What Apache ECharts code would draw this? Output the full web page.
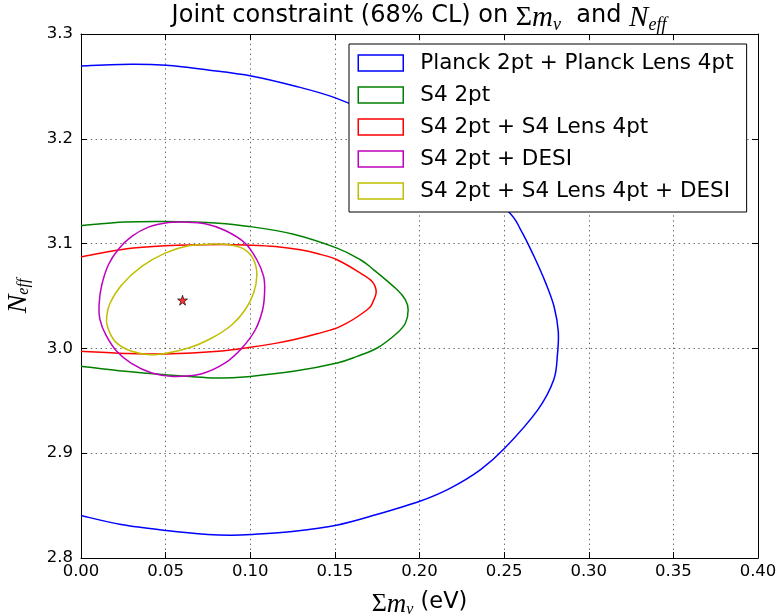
<!DOCTYPE html>
<html>
<head>
<meta charset="utf-8">
<script src="https://cdn.jsdelivr.net/npm/echarts@6/dist/echarts.min.js"></script>
<style>
html,body{margin:0;padding:0;background:#fff;}
#chart{width:778px;height:616px;}
</style>
</head>
<body>
<div id="chart"></div>
<script>
// ---- data ----
const seriesNames = [
  'Planck 2pt + Planck Lens 4pt',
  'S4 2pt',
  'S4 2pt + S4 Lens 4pt',
  'S4 2pt + DESI',
  'S4 2pt + S4 Lens 4pt + DESI'
];
const seriesColors = ['#0000ff', '#008000', '#ff0000', '#bf00bf', '#bfbf00'];

// [sum m_nu (eV), N_eff] points along each 68% contour
const planckContour = [
  [0.0000, 3.2695], [0.0296, 3.2711], [0.0503, 3.2701], [0.0750, 3.2657], [0.1006, 3.2600],
  [0.1262, 3.2504], [0.1499, 3.2393], [0.175, 3.222], [0.200, 3.199], [0.224, 3.170],
  [0.2519, 3.1316], [0.2598, 3.1132], [0.2677, 3.0877], [0.2746, 3.0623],
  [0.2795, 3.0400], [0.2820, 3.0160], [0.2815, 2.9940], [0.2793, 2.9700], [0.2700, 2.9416],
  [0.2503, 2.9047], [0.2361, 2.8844], [0.2180, 2.8665], [0.2002, 2.8542],
  [0.1736, 2.8410], [0.1509, 2.8313], [0.1262, 2.8256], [0.1006, 2.8224], [0.0888, 2.8217],
  [0.0750, 2.8224], [0.0503, 2.8262], [0.0237, 2.8319], [0.0000, 2.8405]
];
const s4Contour = [
  [0.0000, 3.1172], [0.0260, 3.1205], [0.0497, 3.1211], [0.0813, 3.1195], [0.1000, 3.1162],
  [0.1256, 3.1090], [0.1513, 3.0957], [0.1651, 3.0846], [0.1730, 3.0750], [0.1868, 3.0560],
  [0.1917, 3.0464], [0.1933, 3.0369], [0.1917, 3.0242], [0.1868, 3.0147], [0.1750, 3.0004],
  [0.1631, 2.9924], [0.1513, 2.9861], [0.1256, 2.9781], [0.1000, 2.9733], [0.0813, 2.9717],
  [0.0497, 2.9749], [0.0260, 2.9781], [0.0000, 2.9830]
];
const s4LensContour = [
  [0.0000, 3.0872], [0.0260, 3.0948], [0.0497, 3.0979], [0.0813, 3.0992], [0.1000, 3.0985],
  [0.1148, 3.0972], [0.1296, 3.0941], [0.1395, 3.0905], [0.1513, 3.0846], [0.1651, 3.0719],
  [0.1720, 3.0639], [0.1744, 3.0544], [0.1726, 3.0449], [0.1691, 3.0369], [0.1533, 3.0210],
  [0.1395, 3.0140], [0.1256, 3.0083], [0.1148, 3.0048], [0.1000, 3.0010], [0.0813, 2.9972],
  [0.0497, 2.9947], [0.0260, 2.9952], [0.0000, 2.9972]
];
const s4DesiContour = [
  [0.0615, 3.1205], [0.0734, 3.1189], [0.0852, 3.1125], [0.0970, 3.1004], [0.1039, 3.0846],
  [0.1079, 3.0687], [0.1085, 3.0544], [0.1073, 3.0369], [0.1030, 3.0178], [0.0951, 3.0004],
  [0.0852, 2.9861], [0.0714, 2.9759], [0.0546, 2.9733], [0.0418, 2.9765], [0.0300, 2.9854],
  [0.0211, 2.9972], [0.0146, 3.0131], [0.0112, 3.0274], [0.0107, 3.0420], [0.0122, 3.0600],
  [0.0162, 3.0798], [0.0221, 3.0947], [0.0300, 3.1068], [0.0398, 3.1157], [0.0517, 3.1201],
  [0.0615, 3.1205]
];
const s4LensDesiContour = [
  [0.0773, 3.0995], [0.0892, 3.0985], [0.0970, 3.0941], [0.1020, 3.0846], [0.1039, 3.0703],
  [0.1020, 3.0528], [0.0970, 3.0369], [0.0892, 3.0226], [0.0773, 3.0099], [0.0635, 3.0004],
  [0.0438, 2.9940], [0.0300, 2.9972], [0.0201, 3.0067], [0.0156, 3.0210], [0.0152, 3.0306],
  [0.0172, 3.0433], [0.0241, 3.0607], [0.0359, 3.0782], [0.0497, 3.0909], [0.0635, 3.0979],
  [0.0773, 3.0995]
];
const contours = [planckContour, s4Contour, s4LensContour, s4DesiContour, s4LensDesiContour];
const fiducialPoint = [[0.06, 3.046]];

const xTicks = [0, 0.05, 0.10, 0.15, 0.20, 0.25, 0.30, 0.35, 0.40];
const yTicks = [2.8, 2.9, 3.0, 3.1, 3.2, 3.3];

// ---- chart ----
const chart = echarts.init(document.getElementById('chart'), null, {renderer: 'canvas'});
const sans = 'DejaVu Sans';
const serif = 'Liberation Serif';

const xRange = {min: xTicks[0], max: xTicks[xTicks.length - 1], interval: xTicks[1] - xTicks[0]};
const yRange = {min: yTicks[0], max: yTicks[yTicks.length - 1], interval: 0.1};

const starPath = 'path://M50,0 L61,35 L98,35 L68,57 L79,91 L50,70 L21,91 L32,57 L2,35 L39,35 Z';

function mathRich(base, mSize, subSize, subPad) {
  return {
    t: {fontFamily: sans, fontSize: base, fontWeight: 'normal', color: '#000', verticalAlign: 'top'},
    s: {fontFamily: serif, fontSize: mSize - 1, fontWeight: 'normal', color: '#000', verticalAlign: 'top'},
    m: {fontFamily: serif, fontStyle: 'italic', fontWeight: 'normal', fontSize: mSize, color: '#000', verticalAlign: 'top'},
    sub: {fontFamily: serif, fontStyle: 'italic', fontWeight: 'normal', fontSize: subSize, color: '#000', verticalAlign: 'top', padding: [subPad, 0, 0, 0]}
  };
}

// smooth curve through the read points (Catmull-Rom drawn as cubic Beziers), in pixel space
function smoothPathData(px) {
  const n = px.length;
  const closed = n > 2 && px[0][0] === px[n - 1][0] && px[0][1] === px[n - 1][1];
  let d = 'M' + px[0][0].toFixed(2) + ',' + px[0][1].toFixed(2);
  for (let i = 0; i < n - 1; i++) {
    const p1 = px[i], p2 = px[i + 1];
    const p0 = i > 0 ? px[i - 1] : (closed ? px[n - 2] : p1);
    const p3 = i < n - 2 ? px[i + 2] : (closed ? px[1] : p2);
    const c1x = p1[0] + (p2[0] - p0[0]) / 6, c1y = p1[1] + (p2[1] - p0[1]) / 6;
    const c2x = p2[0] - (p3[0] - p1[0]) / 6, c2y = p2[1] - (p3[1] - p1[1]) / 6;
    d += ' C' + c1x.toFixed(2) + ',' + c1y.toFixed(2) + ' ' + c2x.toFixed(2) + ',' + c2y.toFixed(2) +
         ' ' + p2[0].toFixed(2) + ',' + p2[1].toFixed(2);
  }
  return d;
}

const contourSeries = contours.map((pts, i) => ({
  name: seriesNames[i],
  type: 'custom',
  data: pts,
  encode: {x: 0, y: 1},
  clip: true,
  z: 2,
  itemStyle: {color: seriesColors[i]},
  animation: false,
  renderItem: function (params, api) {
    if (params.dataIndex !== 0) return;
    const px = pts.map(p => api.coord(p));
    return {
      type: 'path',
      shape: {pathData: smoothPathData(px)},
      style: {stroke: seriesColors[i], fill: null, lineWidth: 1.5},
      silent: true
    };
  }
}));

const option = {
  animation: false,
  backgroundColor: '#fff',
  title: {
    text: '{t|Joint constraint (68% CL) on }{s|Σ}{m|m}{sub|ν}{t|  and }{m|N}{sub|eff}',
    left: 419,
    textAlign: 'center',
    top: 4,
    padding: 0,
    textStyle: {fontWeight: 'normal', rich: mathRich(24, 29, 18, 12)}
  },
  grid: {left: 81, right: 20, top: 34, bottom: 58, containLabel: false, outerBoundsMode: 'none'},
  legend: {
    orient: 'vertical',
    left: 349,
    top: 44,
    padding: [8, 13, 10, 8.5],
    itemWidth: 45,
    itemHeight: 16,
    itemGap: 10,
    icon: 'rect',
    backgroundColor: '#fff',
    borderColor: '#000',
    borderWidth: 1,
    z: 10,
    textStyle: {fontFamily: sans, fontSize: 21.5, color: '#000', padding: [0, 0, 0, 12]},
    data: seriesNames.map((n, i) => ({
      name: n,
      icon: 'rect',
      itemStyle: {color: '#fff', borderColor: seriesColors[i], borderWidth: 1.5}
    }))
  },
  xAxis: [
    {
      type: 'value', ...xRange,
      name: '{s|Σ}{m|m}{sub|ν}{t| (eV)}',
      nameLocation: 'middle',
      nameGap: 33,
      nameTextStyle: {rich: mathRich(22.5, 27, 16, 11)},
      axisLine: {show: true, onZero: false, lineStyle: {color: '#000', width: 1}},
      axisTick: {show: true, inside: true, length: 6, lineStyle: {color: '#000'}},
      axisLabel: {fontFamily: sans, fontSize: 16.5, color: '#000', margin: 5, formatter: v => v.toFixed(2)},
      splitLine: {show: true, lineStyle: {color: '#444', width: 0.8, type: [1.4, 3.5]}}
    },
    {
      type: 'value', ...xRange, position: 'top',
      axisLine: {show: true, onZero: false, lineStyle: {color: '#000', width: 1}},
      axisTick: {show: true, inside: true, length: 6, lineStyle: {color: '#000'}},
      axisLabel: {show: false},
      splitLine: {show: false}
    }
  ],
  yAxis: [
    {
      type: 'value', ...yRange,
      name: '{m|N}{sub|eff}',
      nameLocation: 'middle',
      nameRotate: 90,
      nameGap: 48,
      nameTextStyle: {rich: mathRich(23, 28, 16, 11)},
      axisLine: {show: true, onZero: false, lineStyle: {color: '#000', width: 1}},
      axisTick: {show: true, inside: true, length: 6, lineStyle: {color: '#000'}},
      axisLabel: {fontFamily: sans, fontSize: 16.5, color: '#000', margin: 8, formatter: v => v.toFixed(1)},
      splitLine: {show: true, lineStyle: {color: '#444', width: 0.8, type: [1.4, 3.5]}}
    },
    {
      type: 'value', ...yRange, position: 'right',
      axisLine: {show: true, onZero: false, lineStyle: {color: '#000', width: 1}},
      axisTick: {show: true, inside: true, length: 6, lineStyle: {color: '#000'}},
      axisLabel: {show: false},
      splitLine: {show: false}
    }
  ],
  series: contourSeries.concat([{
    name: 'fiducial',
    type: 'scatter',
    data: fiducialPoint,
    symbol: starPath,
    symbolSize: 10,
    itemStyle: {color: '#ff0000', borderColor: '#000', borderWidth: 0.8},
    z: 5,
    animation: false
  }])
};
chart.setOption(option);
</script>
</body>
</html>
